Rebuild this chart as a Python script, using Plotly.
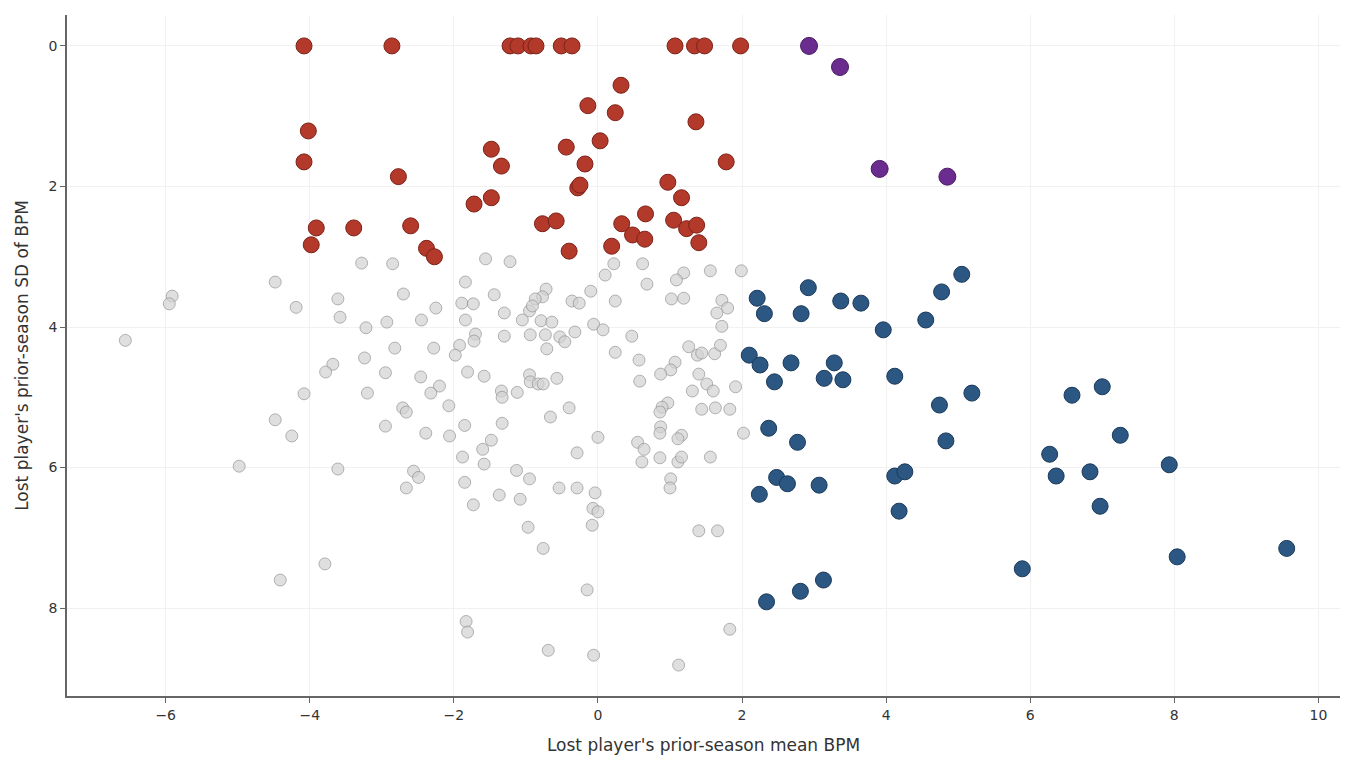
import plotly.graph_objects as go

# Gray (other) players: mean BPM, SD of BPM
gray_x = [-3.28, -2.85, -4.48, -5.91, -5.95, -4.19, -3.61, -3.58, -3.22, -2.93, -2.82, -6.56, -3.24, -3.68, -3.78,
          -2.95, -4.08, -3.20, -4.48, -2.95, -4.25, -4.98, -3.61, -3.79, -4.41,
          -1.56, -1.22, 0.22, 0.62, 0.10, 1.56, 1.99, 1.19, 1.09, 0.68, -1.84, -2.70, -1.44, -0.72, -0.77,
          -0.87, -0.10, -0.36, -0.26, 0.24, 1.02, 1.19, 1.72, 1.80, 1.65, -2.25, -1.89, -1.73, -1.30, -0.95,
          -0.91, -2.45, -1.84, -1.05, -0.79, -0.64, -0.06, 0.07, 0.47, 1.72, -1.70, -1.72, -1.30, -0.94, -0.73,
          -0.53, -0.46, -0.32, -2.28, -1.92, -1.98, -0.71, 0.24, 1.26, 1.38, 1.44, 1.62, 1.70, 0.57, 1.07,
          1.01, 0.87, 1.40, -2.46, -1.81, -1.58, -0.95, -0.94, -0.83, -0.76, -0.57, -2.20, -2.32, -1.34, -1.33,
          -1.12, 0.58, 1.51, 1.60, 1.31, 1.91, -2.71, -2.66, -2.07, -0.40, -0.66, 0.97, 0.89, 0.86, 1.44,
          1.63, 1.83, -2.39, -2.06, -1.85, -1.33, 0.00, 0.87, 0.86, 1.16, 2.02, -1.48, 1.11, 0.55, 0.64,
          0.86, 1.11, 1.16, 0.61, 1.56, -0.29, -1.60, -1.88, -1.58, -2.56, -2.49, -2.66, -1.85, -1.73, -1.13,
          -0.95, -1.37, -1.08, -0.54, -0.29, -0.04, -0.07, 0.00, -0.08, 1.01, 1.00, -0.97, -0.76, 1.40, 1.66,
          -0.15, -1.83, -1.81, -0.69, -0.06, 1.12, 1.83]
gray_y = [3.09, 3.10, 3.36, 3.56, 3.67, 3.72, 3.60, 3.86, 4.01, 3.93, 4.30, 4.19, 4.44, 4.53, 4.64,
          4.65, 4.95, 4.94, 5.32, 5.41, 5.55, 5.98, 6.02, 7.37, 7.60,
          3.03, 3.07, 3.10, 3.10, 3.26, 3.20, 3.20, 3.23, 3.33, 3.39, 3.36, 3.53, 3.54, 3.46, 3.57,
          3.60, 3.49, 3.63, 3.66, 3.63, 3.60, 3.59, 3.62, 3.73, 3.80, 3.73, 3.66, 3.67, 3.80, 3.77,
          3.70, 3.90, 3.90, 3.90, 3.91, 3.93, 3.96, 4.04, 4.13, 3.99, 4.10, 4.20, 4.13, 4.11, 4.11,
          4.14, 4.21, 4.07, 4.30, 4.26, 4.40, 4.31, 4.36, 4.28, 4.40, 4.37, 4.38, 4.26, 4.47, 4.50,
          4.61, 4.67, 4.67, 4.71, 4.64, 4.70, 4.68, 4.78, 4.81, 4.81, 4.73, 4.84, 4.94, 4.91, 5.00,
          4.93, 4.77, 4.81, 4.91, 4.91, 4.85, 5.15, 5.21, 5.12, 5.15, 5.28, 5.08, 5.14, 5.21, 5.17,
          5.15, 5.17, 5.51, 5.55, 5.40, 5.37, 5.57, 5.42, 5.51, 5.54, 5.51, 5.61, 5.59, 5.64, 5.74,
          5.86, 5.92, 5.85, 5.92, 5.85, 5.79, 5.74, 5.85, 5.95, 6.05, 6.14, 6.29, 6.21, 6.53, 6.04,
          6.16, 6.39, 6.45, 6.29, 6.29, 6.36, 6.58, 6.63, 6.82, 6.16, 6.29, 6.85, 7.15, 6.90, 6.90,
          7.74, 8.19, 8.34, 8.60, 8.67, 8.81, 8.30]

# Red group
red_x = [-4.08, -2.86, -1.22, -1.11, -0.93, -0.86, -0.51, -0.36, 1.07, 1.34, 1.48, 1.98,
         -4.02, -4.08, -2.77, -1.48, -1.34, -1.72, -1.48, -3.91, -3.39, -2.60, -3.98, -2.38, -2.27,
         0.32, -0.14, 0.24, 1.36, 0.03, -0.44, -0.18, -0.28, -0.25, 1.78, 0.97, 1.16, -0.77, -0.58,
         0.33, 0.66, 0.48, 0.65, -0.40, 0.19, 1.05, 1.23, 1.37, 1.40]
red_y = [0, 0, 0, 0, 0, 0, 0, 0, 0, 0, 0, 0,
         1.21, 1.65, 1.86, 1.47, 1.71, 2.25, 2.16, 2.59, 2.59, 2.56, 2.83, 2.88, 3.00,
         0.56, 0.85, 0.95, 1.08, 1.35, 1.44, 1.68, 2.02, 1.98, 1.65, 1.94, 2.16, 2.53, 2.49,
         2.53, 2.39, 2.69, 2.75, 2.92, 2.85, 2.48, 2.60, 2.55, 2.80]

# Purple group
purple_x = [2.93, 3.36, 3.91, 4.85]
purple_y = [0, 0.30, 1.75, 1.86]

# Blue group
blue_x = [5.05, 4.77, 2.92, 2.21, 2.31, 2.82, 3.37, 3.65, 4.55, 3.96, 2.10, 2.25, 2.68, 3.28, 3.14,
          3.40, 2.45, 4.12, 5.19, 4.74, 2.37, 2.77, 4.83, 6.27, 2.48, 2.63, 2.24, 3.07, 4.12, 4.26,
          4.18, 5.89, 2.34, 2.81, 3.13, 6.58, 7.00, 7.25, 6.36, 6.83, 6.97, 7.93, 8.04, 9.56]
blue_y = [3.25, 3.50, 3.44, 3.59, 3.81, 3.81, 3.63, 3.66, 3.90, 4.04, 4.40, 4.54, 4.51, 4.51, 4.73,
          4.75, 4.78, 4.70, 4.94, 5.11, 5.44, 5.64, 5.62, 5.81, 6.14, 6.23, 6.38, 6.25, 6.12, 6.06,
          6.62, 7.44, 7.91, 7.76, 7.60, 4.97, 4.85, 5.54, 6.12, 6.06, 6.55, 5.96, 7.27, 7.15]

x_ticks = [-6, -4, -2, 0, 2, 4, 6, 8, 10]
y_ticks = [0, 2, 4, 6, 8]

fig = go.Figure()
fig.add_trace(go.Scatter(x=gray_x, y=gray_y, mode="markers",
                         marker=dict(size=12, color="rgba(210,210,210,0.7)",
                                     line=dict(color="rgba(135,135,135,0.6)", width=1)),
                         showlegend=False, hoverinfo="x+y"))
fig.add_trace(go.Scatter(x=red_x, y=red_y, mode="markers",
                         marker=dict(size=16, color="#B3392B", line=dict(color="#7d2218", width=1)),
                         showlegend=False))
fig.add_trace(go.Scatter(x=blue_x, y=blue_y, mode="markers",
                         marker=dict(size=16, color="#2B5782", line=dict(color="#1b3a5a", width=1)),
                         showlegend=False))
fig.add_trace(go.Scatter(x=purple_x, y=purple_y, mode="markers",
                         marker=dict(size=17, color="#6A2C8E", line=dict(color="#4a1b66", width=1)),
                         showlegend=False))

axis_common = dict(showline=True, linecolor="#666666", linewidth=1.5, ticks="outside", ticklen=5,
                   tickcolor="#666666", tickwidth=1, showgrid=True, gridcolor="#f1f1f1", gridwidth=1,
                   zeroline=False, tickfont=dict(family="DejaVu Sans", size=14, color="#333333"),
                   mirror=False)

fig.update_layout(
    width=1341, height=753,
    margin=dict(l=59, r=9, t=7, b=65),
    paper_bgcolor="white", plot_bgcolor="white",
    font=dict(family="DejaVu Sans", color="#333333"),
    xaxis=dict(range=[-7.37, 10.3], tickvals=x_ticks,
               ticktext=["\u2212" + str(-v) if v < 0 else str(v) for v in x_ticks],
               title=dict(text="Lost player's prior-season mean BPM", font=dict(size=17, color="#333333"), standoff=18),
               **axis_common),
    yaxis=dict(range=[9.25, -0.44], tickvals=y_ticks,
               title=dict(text="Lost player's prior-season SD of BPM", font=dict(size=17, color="#333333"), standoff=16),
               **axis_common),
)

fig.write_html("out.html")
